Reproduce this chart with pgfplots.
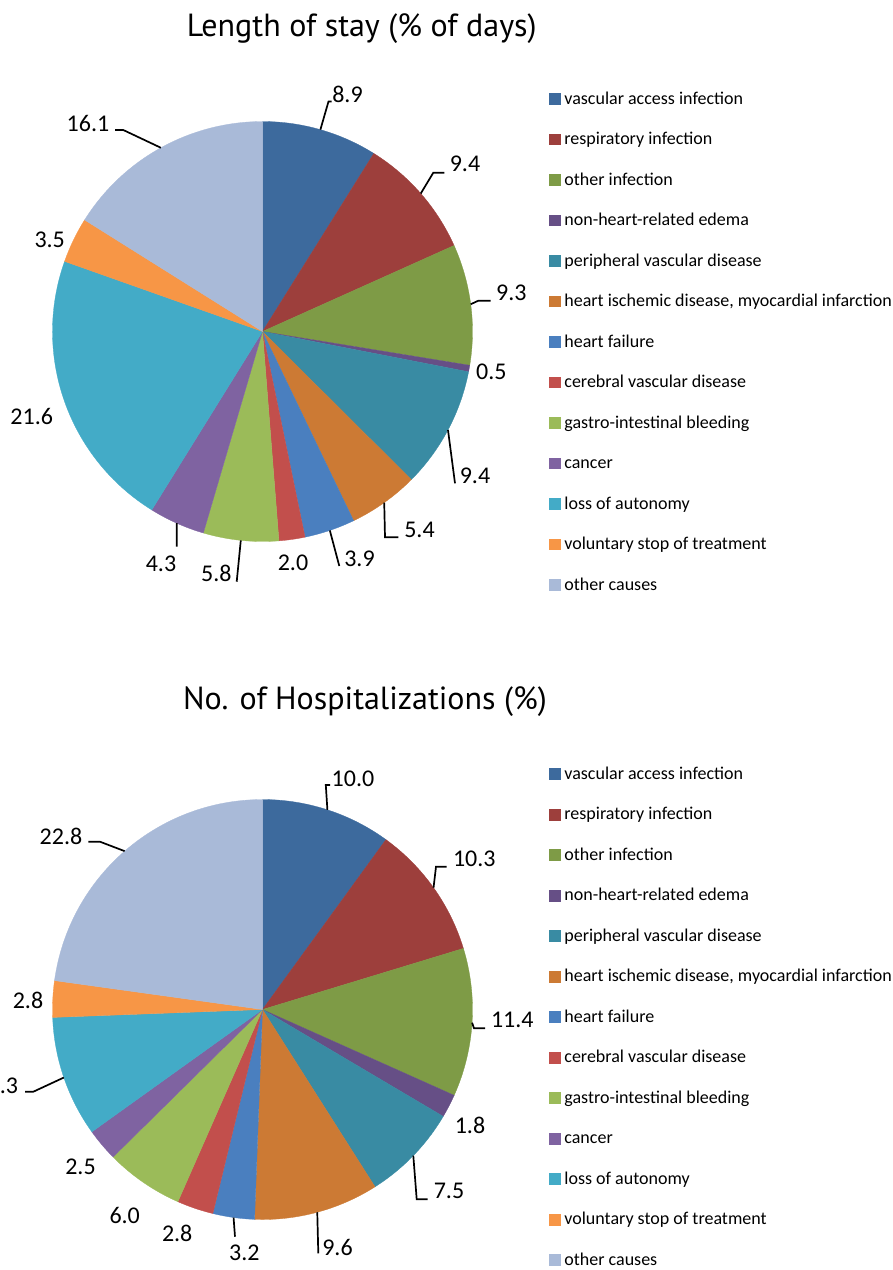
\documentclass[border=0pt]{standalone}
\usepackage{pgfplots}
\pgfplotsset{compat=1.18}
\usepackage{pgfplotstable}
\usepackage{fontspec}
\setmainfont{Carlito}
\newfontfamily\titlefont{PT Sans}

\definecolor{s1}{HTML}{3D6A9D}
\definecolor{s2}{HTML}{9D3F3C}
\definecolor{s3}{HTML}{7E9B46}
\definecolor{s4}{HTML}{664F86}
\definecolor{s5}{HTML}{398BA3}
\definecolor{s6}{HTML}{CC7A34}
\definecolor{s7}{HTML}{4A7FBF}
\definecolor{s8}{HTML}{C24F4C}
\definecolor{s9}{HTML}{9BBB59}
\definecolor{s10}{HTML}{7F63A1}
\definecolor{s11}{HTML}{43ABC7}
\definecolor{s12}{HTML}{F79646}
\definecolor{s13}{HTML}{A9BAD8}

% value, label centre (lx,ly), leader flag, leader bend (bx,by), leader end (ex,ey)
\pgfplotstableread{
value lx ly lead bx by ex ey
8.9 347.5 94.2 1 328.5 101.5 331.5 101.5
9.4 465.0 164.2 1 433.3 172.7 444.3 172.7
9.3 511.3 292.5 1 478.3 300.7 490.7 300.7
0.5 491.3 371.7 0 0 0 0 0
9.4 475.0 475.8 1 455.0 483.3 455.0 483.3
5.4 419.5 529.5 1 385.0 537.3 398.3 537.3
3.9 359.5 558.5 1 339.3 566.0 339.3 566.0
2.0 293.0 563.0 0 0 0 0 0
5.8 216.3 573.3 1 236.7 581.7 236.7 581.7
4.3 161.0 564.0 1 176.7 546.7 176.7 546.7
21.6 31.7 416.0 0 0 0 0 0
3.5 49.7 239.5 0 0 0 0 0
16.1 88.0 123.0 1 123.3 130.0 115.0 130.0
}\staytable

\pgfplotstableread{
value lx ly lead bx by ex ey
10.0 353.0 778.3 1 325.8 785.0 330.0 785.0
10.3 474.3 859.2 1 436.0 866.7 446.7 866.7
11.4 512.3 1020.0 1 474.0 1028.3 485.0 1028.3
1.8 470.0 1125.3 0 0 0 0 0
7.5 449.0 1191.0 1 416.7 1199.3 427.7 1199.3
9.6 337.5 1247.2 1 318.3 1253.3 318.3 1253.3
3.2 244.3 1253.0 1 235.0 1236.7 235.0 1236.7
2.8 177.2 1233.3 0 0 0 0 0
6.0 124.7 1215.5 0 0 0 0 0
2.5 80.5 1167.2 0 0 0 0 0
9.3 2.8 1085.8 1 33.3 1091.7 25.0 1091.7
2.8 28.0 1000.8 0 0 0 0 0
22.8 61.0 836.2 1 100.0 841.7 88.3 841.7
}\hosptable

\newcommand\drawpie[4]{%
  \pgfplotstablegetrowsof{#1}%
  \pgfmathtruncatemacro\pieN{\pgfplotsretval-1}%
  \def\pietotal{0}%
  \pgfplotsforeachungrouped \i in {0,...,\pieN}{%
    \pgfplotstablegetelem{\i}{value}\of{#1}%
    \pgfmathsetmacro\pietotal{\pietotal+\pgfplotsretval}}%
  \def\piecum{0}%
  \pgfplotsforeachungrouped \i in {0,...,\pieN}{%
    \pgfplotstablegetelem{\i}{value}\of{#1}\let\pieval\pgfplotsretval
    \pgfmathsetmacro\pa{90-\piecum/\pietotal*360}%
    \pgfmathsetmacro\piecum{\piecum+\pieval}%
    \pgfmathsetmacro\pb{90-\piecum/\pietotal*360}%
    \pgfmathtruncatemacro\ci{\i+1}%
    \fill[s\ci, draw=s\ci, line width=0.3pt] (axis cs:#2,#3) -- ++(\pa:#4) arc[start angle=\pa, end angle=\pb, radius=#4] -- cycle;
  }%
  \def\piecum{0}%
  \pgfplotsforeachungrouped \i in {0,...,\pieN}{%
    \pgfplotstablegetelem{\i}{value}\of{#1}\let\pieval\pgfplotsretval
    \pgfplotstablegetelem{\i}{lx}\of{#1}\let\plx\pgfplotsretval
    \pgfplotstablegetelem{\i}{ly}\of{#1}\let\ply\pgfplotsretval
    \pgfplotstablegetelem{\i}{lead}\of{#1}\let\plead\pgfplotsretval
    \pgfplotstablegetelem{\i}{bx}\of{#1}\let\pbx\pgfplotsretval
    \pgfplotstablegetelem{\i}{by}\of{#1}\let\pby\pgfplotsretval
    \pgfplotstablegetelem{\i}{ex}\of{#1}\let\pex\pgfplotsretval
    \pgfplotstablegetelem{\i}{ey}\of{#1}\let\pey\pgfplotsretval
    \pgfmathsetmacro\pmid{90-(\piecum+0.5*\pieval)/\pietotal*360}%
    \pgfmathsetmacro\piecum{\piecum+\pieval}%
    \ifnum\plead=1\relax
      \draw[black, line width=1.7pt] (axis cs:#2,#3) ++(\pmid:#4) -- (axis cs:\pbx,\pby) -- (axis cs:\pex,\pey);
    \fi
    \node[font=\fontsize{24}{28}\selectfont, inner sep=0pt] at (axis cs:\plx,\ply)
      {\pgfmathprintnumber[fixed,fixed zerofill,precision=1,assume math mode=true]{\pieval}};
  }%
}

\pgfplotsset{
  piestyle/.style={
    scale only axis, width=893pt, height=635pt,
    xmin=0, xmax=893, y dir=reverse,
    hide axis, clip=false,
    title style={anchor=base, font=\titlefont\fontsize{32}{38}\selectfont, inner sep=0pt},
    legend cell align=left,
    legend image code/.code={\fill[##1] (0pt,-4.8pt) rectangle (10.5pt,5.9pt);},
    legend style={draw=none, fill=none, anchor=north west,
      inner sep=0pt, outer sep=0pt, row sep=24.9pt, column sep=4.2pt,
      font=\fontsize{18}{21}\selectfont,
      nodes={inner sep=0pt, text height=12.6pt, text depth=3pt}},
  },
}

\begin{document}
\begin{tikzpicture}
\begin{axis}[piestyle, name=top, at={(0pt,0pt)}, anchor=north west,
  ymin=0, ymax=635,
  title={Length of stay (\% of days)},
  title style={at={(axis cs:361.7,42.5)}},
  legend style={at={(axis cs:549.3,91.4)}},
]
\pgfplotsextra{\drawpie{\staytable}{262.5}{331.5}{210pt}}
\addlegendimage{s1}\addlegendentry{vascular access infection}
\addlegendimage{s2}\addlegendentry{respiratory infection}
\addlegendimage{s3}\addlegendentry{other infection}
\addlegendimage{s4}\addlegendentry{non-heart-related edema}
\addlegendimage{s5}\addlegendentry{peripheral vascular disease}
\addlegendimage{s6}\addlegendentry{heart ischemic disease, myocardial infarction}
\addlegendimage{s7}\addlegendentry{heart failure}
\addlegendimage{s8}\addlegendentry{cerebral vascular disease}
\addlegendimage{s9}\addlegendentry{gastro-intestinal bleeding}
\addlegendimage{s10}\addlegendentry{cancer}
\addlegendimage{s11}\addlegendentry{loss of autonomy}
\addlegendimage{s12}\addlegendentry{voluntary stop of treatment}
\addlegendimage{s13}\addlegendentry{other causes}
\end{axis}
\begin{axis}[piestyle, name=bottom, at={(0pt,-635pt)}, anchor=north west,
  ymin=635, ymax=1270,
  title={No. of Hospitalizations (\%)},
  title style={at={(axis cs:365,715)}},
  legend style={at={(axis cs:549.3,766.6)}},
]
\pgfplotsextra{\drawpie{\hosptable}{262.5}{1009.5}{210pt}}
\addlegendimage{s1}\addlegendentry{vascular access infection}
\addlegendimage{s2}\addlegendentry{respiratory infection}
\addlegendimage{s3}\addlegendentry{other infection}
\addlegendimage{s4}\addlegendentry{non-heart-related edema}
\addlegendimage{s5}\addlegendentry{peripheral vascular disease}
\addlegendimage{s6}\addlegendentry{heart ischemic disease, myocardial infarction}
\addlegendimage{s7}\addlegendentry{heart failure}
\addlegendimage{s8}\addlegendentry{cerebral vascular disease}
\addlegendimage{s9}\addlegendentry{gastro-intestinal bleeding}
\addlegendimage{s10}\addlegendentry{cancer}
\addlegendimage{s11}\addlegendentry{loss of autonomy}
\addlegendimage{s12}\addlegendentry{voluntary stop of treatment}
\addlegendimage{s13}\addlegendentry{other causes}
\end{axis}
\pgfresetboundingbox
\useasboundingbox (0pt,0pt) rectangle (893pt,-1270pt);
\end{tikzpicture}
\end{document}
